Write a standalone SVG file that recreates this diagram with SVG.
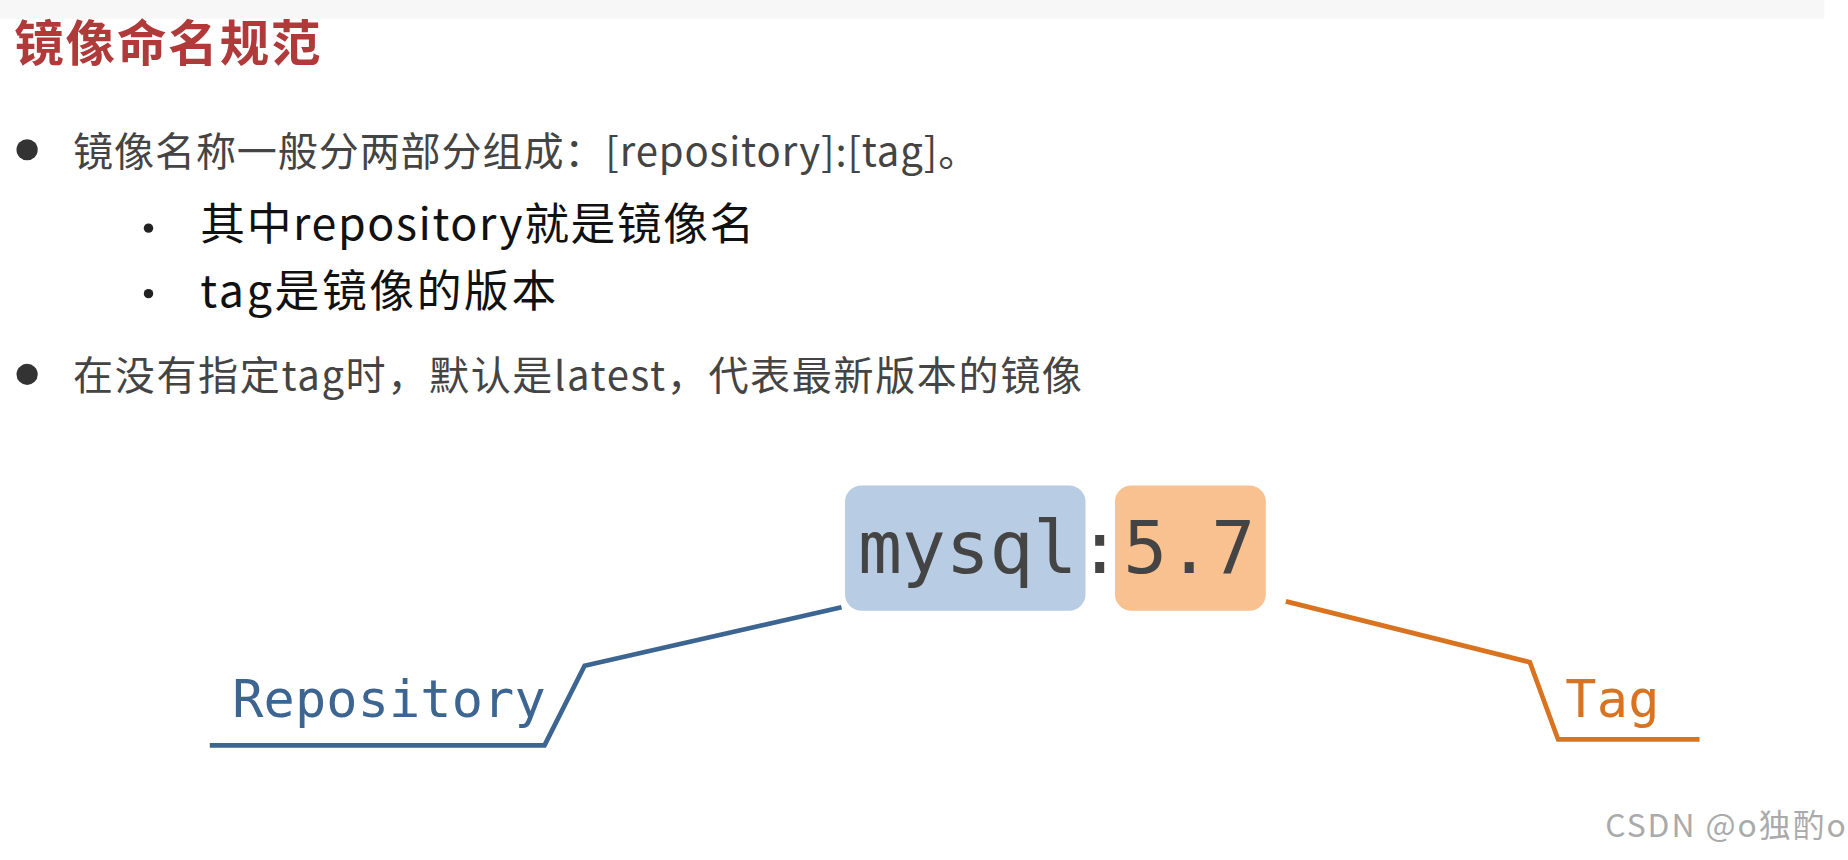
<svg xmlns="http://www.w3.org/2000/svg" width="1848" height="860" viewBox="0 0 1848 860">
<style>
.zh{font-family:"Noto Sans CJK SC","Noto Sans",sans-serif}
.mono{font-family:"DejaVu Sans Mono",monospace}
</style>
<rect width="1848" height="860" fill="#ffffff"/>
<g transform="scale(1.1786 1.17)">
<rect x="0" y="0" width="1548" height="16" fill="#f7f7f7"/>
<g id="title"><text x="12" y="52" class="zh" font-size="42" font-weight="bold" fill="#b03a3a" textLength="260">镜像命名规范</text></g>
<g id="bullets">
<circle cx="23" cy="128" r="9" fill="#333"/>
<text x="62" y="142" class="zh" font-size="34" fill="#444" textLength="768">镜像名称一般分两部分组成：[repository]:[tag]。</text>
<circle cx="126" cy="195" r="4" fill="#222"/>
<text x="170" y="205" class="zh" font-size="38" fill="#111" textLength="470">其中repository就是镜像名</text>
<circle cx="126" cy="251" r="4" fill="#222"/>
<text x="170" y="262" class="zh" font-size="38" fill="#111" textLength="302">tag是镜像的版本</text>
<circle cx="23" cy="320" r="9" fill="#333"/>
<text x="62" y="333" class="zh" font-size="34" fill="#444" textLength="856">在没有指定tag时，默认是latest，代表最新版本的镜像</text>
</g>
<g id="repo-box"><rect x="717" y="415" width="204" height="107" rx="14" fill="#b8cce4"/>
<text x="728" y="490" class="mono" font-size="62" fill="#444" textLength="186">mysql</text></g>
<g id="colon"><text x="933" y="490" class="mono" font-size="62" fill="#444" text-anchor="middle">:</text></g>
<g id="tag-box"><rect x="946" y="415" width="128" height="107" rx="14" fill="#f9c090"/>
<text x="953" y="490" class="mono" font-size="62" fill="#444" textLength="112">5.7</text></g>
<g id="connectors" fill="none" stroke-width="4">
<polyline points="178,637 462,637 496,569 714,519" stroke="#3d6592"/>
<polyline points="1091,514 1298,566 1322,632 1442,632" stroke="#d9731f"/>
</g>
<g id="repo-label"><text x="197" y="613" class="mono" font-size="44" fill="#3d6592" textLength="266">Repository</text></g>
<g id="tag-label"><text x="1328" y="613" class="mono" font-size="44" fill="#d9731f" textLength="80">Tag</text></g>
<text x="1362" y="715" class="zh" font-size="27" fill="#aaa" textLength="204">CSDN @o独酌o</text>
</g>
</svg>
